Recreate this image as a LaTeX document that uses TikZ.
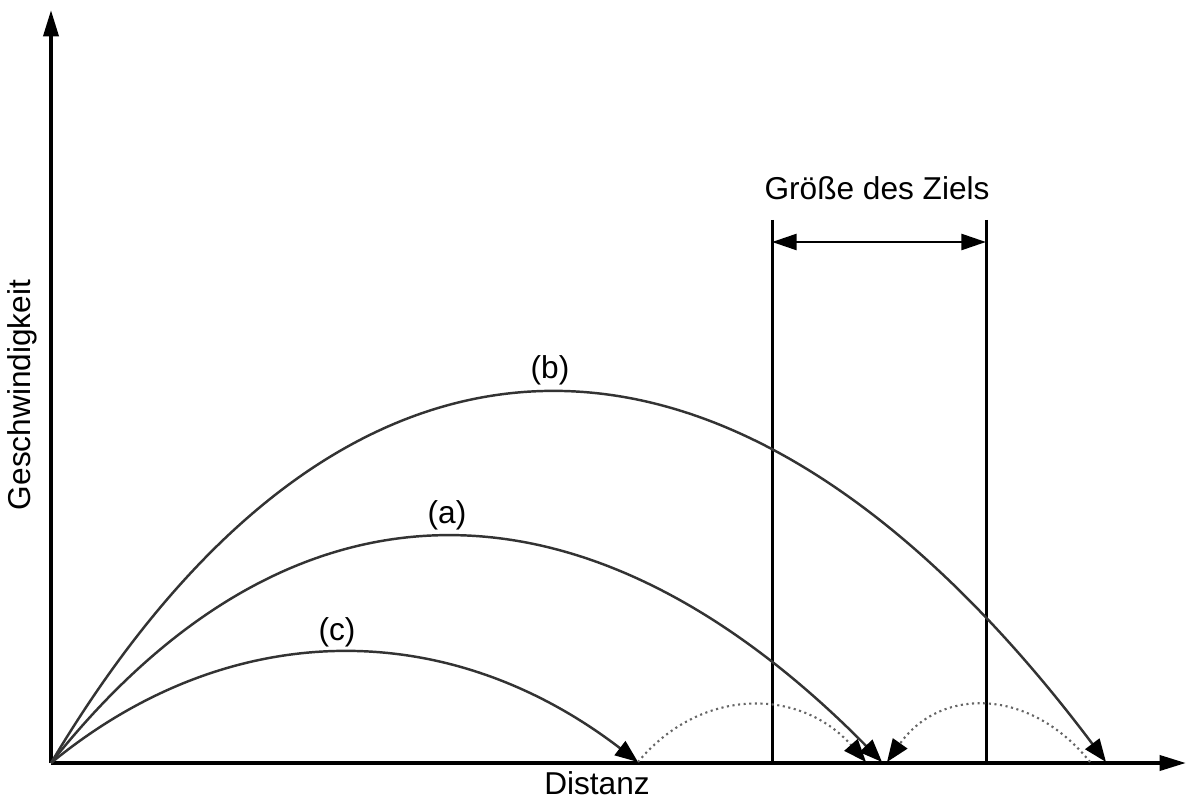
\documentclass[tikz,border=0pt]{standalone}
\usepackage{fontspec}
\setmainfont{Liberation Sans}
\usetikzlibrary{arrows.meta}
\tikzset{
  achse/.style={line width=2.2pt,-{Triangle[length=15pt,width=8.5pt]}},
  spitze/.style={-{Triangle[length=13pt,width=10pt,color=black]}},
  kurve/.style={line width=1.4pt,draw=black!80,spitze},
  sprung/.style={line width=1.2pt,dotted,draw=black!60,spitze},
  grenze/.style={line width=1.7pt},
  etikett/.style={font=\fontsize{18}{21}\selectfont}
}
\begin{document}
\begin{tikzpicture}[x=0.02cm,y=-0.02cm]
        \useasboundingbox (0,0) rectangle (1196,800);
        % Achsen
        \coordinate (O) at (51,763);
        \coordinate (xmax) at (1186,763);
        \coordinate (ymax) at (51,10);
        \draw [achse] (O) -- (xmax);
        \draw [achse] (O) -- (ymax);
        \node [etikett,inner sep=1pt] (distanz) at (597,783) {Distanz};
        \node [etikett,rotate=90] (geschw) at (22,395) {Geschwindigkeit};
        % Ziel
        \coordinate (zl) at (772,220);
        \coordinate (zr) at (986,220);
        \draw [grenze] (zl) -- (zl |- O);
        \draw [grenze] (zr) -- (zr |- O);
        \draw [grenze,{Triangle[length=14pt,width=9pt]}-{Triangle[length=14pt,width=9pt]}] (772,242) -- (986,242);
        \node [etikett] (ziel) at (877,188) {Größe des Ziels};
        % Wuerfe
        \coordinate (c-ende) at (638,762);
        \coordinate (a-ende) at (882,762);
        \coordinate (b-ende) at (1106,762);
        \draw [kurve] (O) .. controls (230,616) and (448,616) .. (c-ende);
        \draw [kurve] (O) .. controls (290,462) and (586,462) .. (a-ende);
        \draw [kurve] (O) .. controls (345,270) and (736,270) .. (b-ende);
        \node [etikett] (lc) at (337,632) {(c)};
        \node [etikett] (la) at (447,515) {(a)};
        \node [etikett] (lb) at (550,370) {(b)};
        % Abpraller
        \draw [sprung] (c-ende) .. controls (700,687) and (800,687) .. (866,762);
        \draw [sprung] (1090,762) .. controls (1030,687) and (940,687) .. (887,762);
    \end{tikzpicture}
\end{document}
